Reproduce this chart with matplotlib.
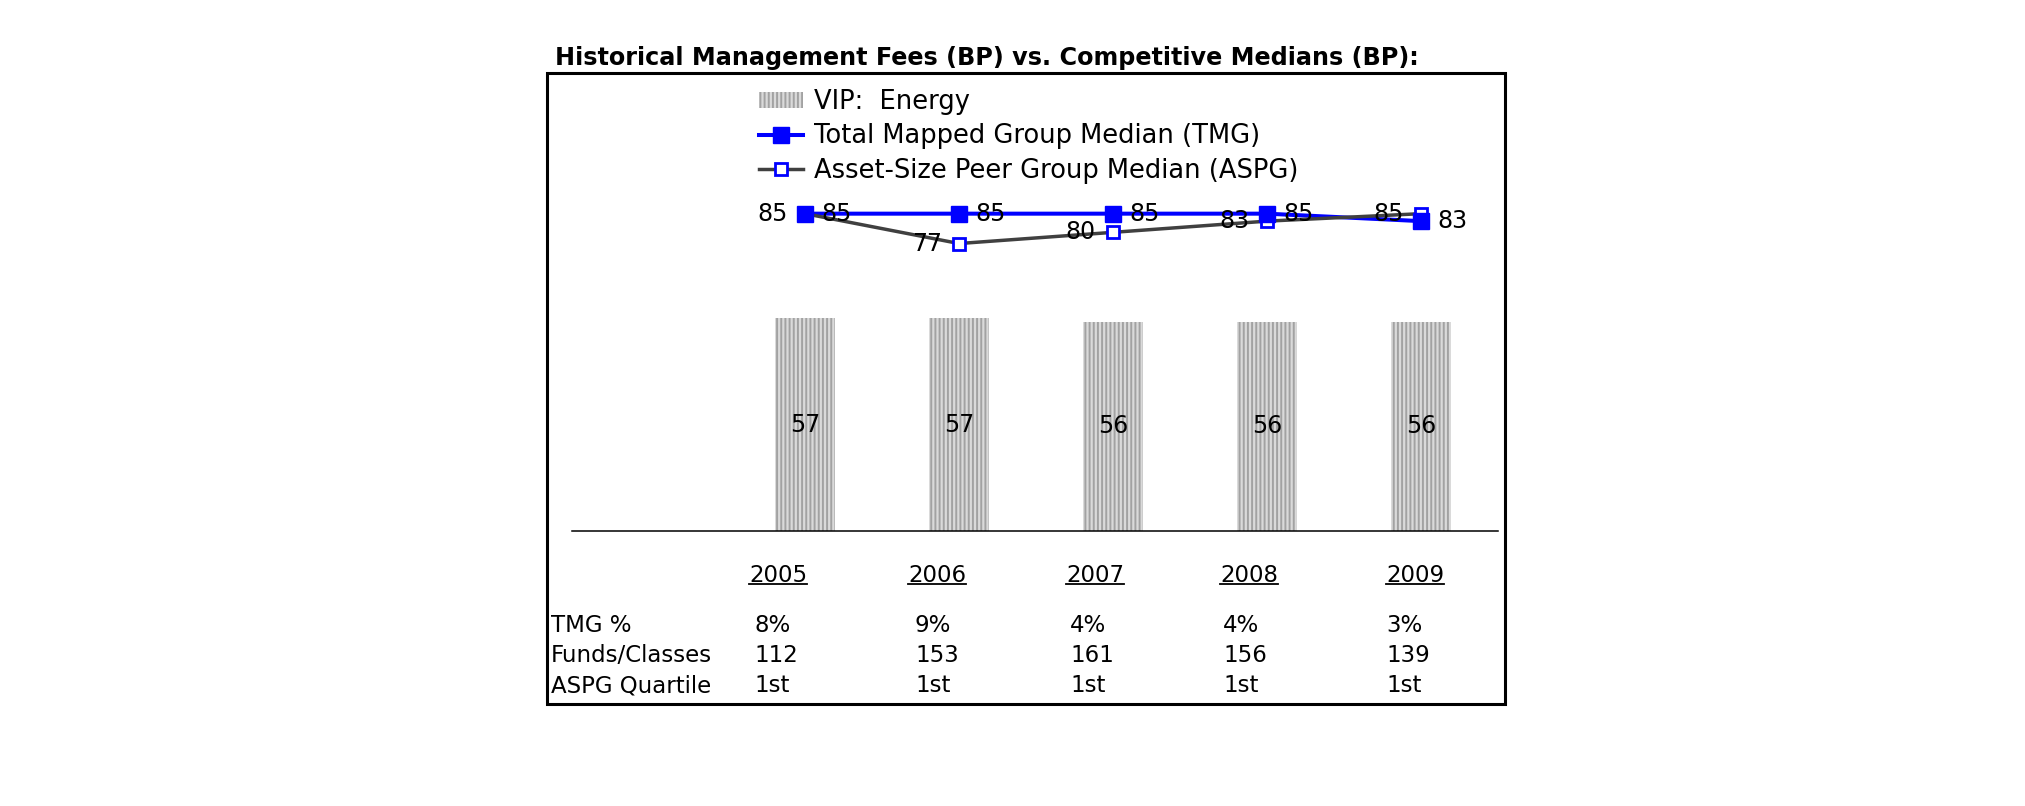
import matplotlib
matplotlib.use('Agg')
import matplotlib.pyplot as plt
from matplotlib.patches import Rectangle, Patch
from matplotlib.lines import Line2D

# ---- data ----
years = ['2005', '2006', '2007', '2008', '2009']
vip_energy = [57, 57, 56, 56, 56]
tmg_median = [85, 85, 85, 85, 83]
aspg_median = [85, 77, 80, 83, 85]
tmg_pct = ['8%', '9%', '4%', '4%', '3%']
funds_classes = ['112', '153', '161', '156', '139']
aspg_quartile = ['1st', '1st', '1st', '1st', '1st']
row_labels = ['TMG %', 'Funds/Classes', 'ASPG Quartile']
title = 'Historical Management Fees (BP) vs. Competitive Medians (BP):'
legend_labels = ['VIP:  Energy', 'Total Mapped Group Median (TMG)',
                 'Asset-Size Peer Group Median (ASPG)']

plt.rcParams['font.family'] = ['DejaVu Sans']
plt.rcParams['hatch.linewidth'] = 1.4

W, H = 2025, 806
fig = plt.figure(figsize=(20.25, 8.06), dpi=100)


def fx(px):
    return px / W


def fy(py):
    return 1 - py / H


FS_LBL = 17
FS_TAB = 16.5
FS_LEG = 18.5
FS_TTL = 17.2
BLUE = '#0000ff'
GRAY = '#404040'
BAR_FC = '#dadada'
BAR_HC = '#a2a2a2'
HATCH = '||||'

ax = fig.add_axes([fx(572), fy(531), fx(1498) - fx(572), (531 - 83) / H])
x = list(range(len(years)))
ax.bar(x, vip_energy, width=0.39, color=BAR_FC, edgecolor=BAR_HC,
       hatch=HATCH, linewidth=0, zorder=1)
ax.plot(x, tmg_median, color=BLUE, lw=2.9, zorder=3)
ax.plot(x, aspg_median, color=GRAY, lw=2.5, zorder=4)
ax.plot(x, aspg_median, ls='none', marker='s', ms=8.6, mfc='white',
        mec=BLUE, mew=2.0, zorder=5)
ax.plot(x, tmg_median, ls='none', marker='s', ms=11, color=BLUE, zorder=6)

for i, v in enumerate(vip_energy):
    ax.text(i, v / 2, str(v), ha='center', va='center', fontsize=FS_LBL, zorder=7)
for i, v in enumerate(tmg_median):
    ax.annotate(str(v), (i, v), xytext=(12, 0), textcoords='offset points',
                ha='left', va='center', fontsize=FS_LBL, zorder=8)
for i, v in enumerate(aspg_median):
    ax.annotate(str(v), (i, v), xytext=(-12.5, 0), textcoords='offset points',
                ha='right', va='center', fontsize=FS_LBL, zorder=8)

ax.set_xlim(-1.513, 4.5)
ax.set_ylim(0, 120)
for s in ['top', 'left', 'right']:
    ax.spines[s].set_visible(False)
ax.spines['bottom'].set_linewidth(1.1)
ax.set_xticks([])
ax.set_yticks([])
ax.patch.set_alpha(0)

# outer box
fig.add_artist(Rectangle((fx(547), fy(704)), (1505 - 547) / W, (704 - 73) / H,
                         transform=fig.transFigure, fill=False, lw=2.2,
                         ec='black', zorder=10))

# title
fig.text(fx(555), fy(58), title, fontsize=FS_TTL, fontweight='bold',
         ha='left', va='center')

# legend
handles = [
    Patch(facecolor=BAR_FC, edgecolor=BAR_HC, hatch=HATCH, linewidth=0),
    Line2D([], [], color=BLUE, lw=2.9, marker='s', ms=11),
    Line2D([], [], color=GRAY, lw=2.5, marker='s', ms=8.6, mfc='white',
           mec=BLUE, mew=2.0),
]
fig.legend(handles, legend_labels, loc='upper left',
           bbox_to_anchor=(fx(759), fy(89)), frameon=False, fontsize=FS_LEG,
           handlelength=1.72, handletextpad=0.43, labelspacing=0.33,
           borderpad=0, borderaxespad=0, handleheight=0.62)

# table below the chart
col_left = [749, 908, 1066, 1220, 1386]
val_left = [754, 915, 1070, 1223, 1386]
year_texts = []
for cx, yr in zip(col_left, years):
    t = fig.text(fx(cx), fy(576), yr, fontsize=FS_TAB, ha='left', va='center')
    year_texts.append(t)

row_y = [625, 656, 686]
rows = [tmg_pct, funds_classes, aspg_quartile]
for ry, lab, vals in zip(row_y, row_labels, rows):
    fig.text(fx(551), fy(ry), lab, fontsize=FS_TAB, ha='left', va='center')
    for cx, v in zip(val_left, vals):
        fig.text(fx(cx), fy(ry), v, fontsize=FS_TAB, ha='left', va='center')

# underline years
fig.canvas.draw()
r = fig.canvas.get_renderer()
for t in year_texts:
    bb = t.get_window_extent(r)
    yline = (bb.y0 + 4) / H
    fig.add_artist(Line2D([bb.x0 / W, bb.x1 / W], [yline, yline],
                          transform=fig.transFigure, color='black', lw=1.3))

fig.savefig('out.png', dpi=100)
